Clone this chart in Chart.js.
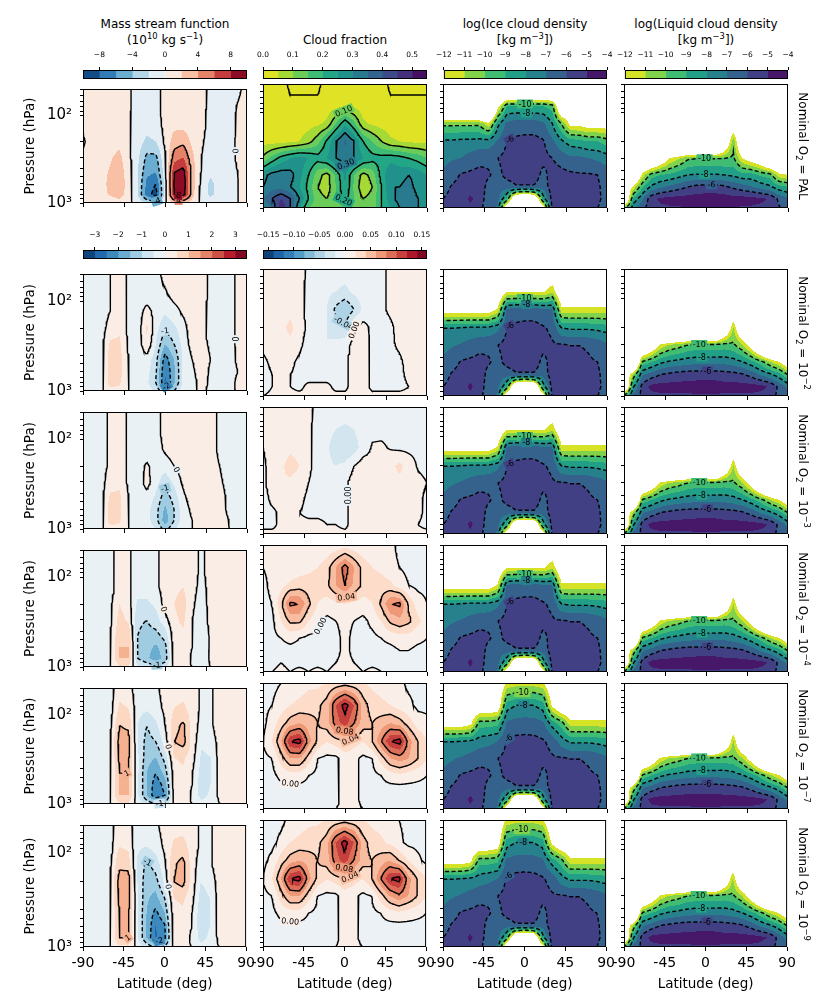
<!DOCTYPE html>
<html>
<head>
<meta charset="utf-8">
<title>Nominal O2 sensitivity</title>
<script src="https://cdn.jsdelivr.net/npm/chart.js@4.4.1/dist/chart.umd.min.js"></script>
<style>
  body { margin: 0; background: #fff; }
  #fig { position: relative; width: 830px; height: 997px; overflow: hidden; font-family: "DejaVu Sans", sans-serif; color: #000; }
  #fig canvas { position: absolute; }
  .title { position: absolute; width: 220px; text-align: center; font-size: 12px; line-height: 16px; white-space: nowrap; }
  .rowlab { position: absolute; font-size: 12px; white-space: nowrap; transform: translate(-50%, -50%) rotate(90deg); }
  sup, sub { font-size: 0.7em; line-height: 0; }
</style>
</head>
<body>
<div id="fig"></div>
<script>
// grid the fields are given on
const LAT = [-90, -80, -70, -60, -50, -40, -30, -20, -10, 0, 10, 20, 30, 40, 50, 60, 70, 80, 90];
const PLEV = [50, 85, 130, 200, 300, 450, 600, 800, 1000];

// axis ticks
const LAT_TICKS = [-90, -45, 0, 45, 90];
const P_TICKS = [50, 60, 70, 80, 90, 100, 200, 300, 400, 500, 600, 700, 800, 900, 1000];

// filled contour levels
const SF_PAL_LEVELS = [-10, -8, -6, -4, -2, 0, 2, 4, 6, 8, 10];
const SF_DIFF_LEVELS = [-3.5, -3, -2.5, -2, -1.5, -1, -0.5, 0, 0.5, 1, 1.5, 2, 2.5, 3, 3.5];
const CF_PAL_LEVELS = [0, 0.05, 0.1, 0.15, 0.2, 0.25, 0.3, 0.35, 0.4, 0.45, 0.5, 0.55];
const CF_DIFF_LEVELS = [-0.16, -0.14, -0.12, -0.1, -0.08, -0.06, -0.04, -0.02, 0, 0.02, 0.04, 0.06, 0.08, 0.1, 0.12, 0.14, 0.16];
const DENS_LEVELS = [-12, -11, -10, -9, -8, -7, -6, -5, -4];

// line contour levels
const SF_PAL_LINES = [-8, -4, 0, 4, 8];
const SF_DIFF_LINES = [-3, -2, -1, 0, 1, 2, 3];
const CF_PAL_LINES = [0, 0.1, 0.2, 0.3, 0.4];
const CF_DIFF_LINES = [-0.08, -0.04, 0, 0.04, 0.08, 0.12];
const DENS_LINES = [-10, -8, -6];

// colorbar ticks
const SF_PAL_TICKS = [-8, -4, 0, 4, 8];
const SF_DIFF_TICKS = [-3, -2, -1, 0, 1, 2, 3];
const CF_PAL_TICKS = [0, 0.1, 0.2, 0.3, 0.4, 0.5];
const CF_DIFF_TICKS = [-0.15, -0.1, -0.05, 0, 0.05, 0.1, 0.15];
const DENS_TICKS = [-12, -11, -10, -9, -8, -7, -6, -5, -4];

const ROW_LABELS = ['PAL', '10<sup>−2</sup>', '10<sup>−3</sup>', '10<sup>−4</sup>', '10<sup>−7</sup>', '10<sup>−9</sup>'];

// mass stream function (rows: 50 ... 1000 hPa, columns: -90 ... 90 deg)
const SF_PAL = [
  [0.3, 0.8, 0.8, 0.8, 0.8, 0.3, -0.8, -0.8, -0.5, 0.5, 0.8, 0.8, 0.8, 0.6, -0.4, -0.8, -0.8, -0.3, 0.5],
  [0.3, 0.8, 0.8, 0.8, 0.8, 0.3, -0.8, -0.8, -0.5, 0.5, 0.8, 0.8, 0.8, 0.5, -0.5, -0.8, -0.8, 0.2, 0.5],
  [0.2, 0.8, 0.9, 0.9, 0.9, 0.2, -0.9, -1.2, -0.8, 0.5, 1.5, 1.5, 0.9, 0.4, -0.5, -0.8, -0.8, 0.3, 0.6],
  [-0.2, 0.6, 1.0, 1.2, 1.5, 0.2, -1.0, -2.5, -2.0, 0.4, 3.0, 3.5, 1.5, 0.2, -0.6, -0.8, -0.6, 0.3, 0.6],
  [0.3, 0.5, 1.2, 1.8, 2.5, 0.5, -1.5, -4.5, -4.5, -0.3, 5.0, 6.0, 2.5, 0.0, -0.8, -0.8, -0.5, 0.2, 0.5],
  [0.2, 0.5, 1.5, 2.2, 3.0, 1.0, -2.0, -5.5, -6.0, -0.8, 8.0, 9.0, 3.0, -0.2, -1.5, -0.9, -0.5, 0.0, 0.4],
  [0.1, 0.5, 1.5, 2.4, 3.2, 1.2, -2.0, -6.5, -8.0, -1.2, 8.5, 9.5, 3.0, -0.5, -2.5, -1.0, -0.5, 0.0, 0.3],
  [0.1, 0.5, 1.5, 2.2, 3.0, 1.0, -2.0, -7.0, -9.0, -1.2, 8.0, 9.0, 2.8, -1.0, -2.5, -1.0, -0.5, 0.0, 0.3],
  [0.0, 0.3, 0.6, 0.8, 1.0, 0.3, -0.5, -2.0, -3.0, -0.3, 2.0, 2.0, 1.0, -0.3, -0.5, -0.3, 0.0, 0.0, 0.0]
];
const SF_E2 = [
  [-0.3, -0.3, -0.2, 0.0, 0.3, -0.1, -0.3, -0.3, -0.2, 0.2, 0.3, 0.3, 0.3, 0.2, -0.1, -0.3, -0.2, 0.1, 0.3],
  [-0.3, -0.3, -0.2, 0.0, 0.3, -0.1, -0.3, -0.3, -0.3, -0.1, 0.2, 0.3, 0.3, 0.2, -0.1, -0.3, -0.2, 0.1, 0.3],
  [-0.3, -0.3, -0.2, 0.0, 0.3, -0.1, -0.3, 0.2, -0.2, -0.4, -0.2, 0.1, 0.3, 0.2, -0.2, -0.3, -0.2, 0.1, 0.3],
  [-0.3, -0.3, -0.2, 0.2, 0.4, -0.1, -0.3, 0.6, -0.3, -0.9, -0.6, -0.2, 0.3, 0.2, -0.2, -0.3, -0.2, 0.1, 0.3],
  [-0.3, -0.3, -0.2, 0.6, 0.6, -0.1, -0.3, 0.4, -0.5, -1.5, -1.0, -0.3, 0.2, 0.2, -0.1, -0.3, -0.2, 0.1, 0.3],
  [-0.3, -0.3, -0.2, 0.8, 0.7, 0.0, -0.3, -0.2, -0.8, -2.3, -1.5, -0.4, 0.0, 0.3, 0.0, -0.3, -0.3, 0.1, 0.3],
  [-0.3, -0.3, -0.2, 0.8, 0.7, 0.0, -0.3, -0.3, -0.9, -2.5, -1.6, -0.4, -0.1, 0.3, -0.1, -0.2, -0.2, 0.0, 0.2],
  [-0.3, -0.2, -0.2, 0.8, 0.6, 0.0, -0.3, -0.4, -1.0, -2.6, -1.6, -0.4, -0.2, 0.2, -0.1, -0.3, -0.2, 0.1, 0.1],
  [0.0, 0.0, -0.1, 0.3, 0.3, 0.0, -0.1, -0.2, -0.6, -1.5, -1.0, -0.2, -0.1, 0.1, -0.1, -0.1, 0.0, 0.0, 0.0]
];
const SF_E3 = [
  [-0.3, -0.3, -0.2, 0.1, 0.3, -0.1, -0.3, -0.3, -0.2, 0.2, 0.3, 0.3, 0.3, 0.3, 0.2, -0.1, -0.3, -0.3, -0.2],
  [-0.3, -0.3, -0.2, 0.1, 0.3, -0.1, -0.3, -0.3, -0.2, 0.2, 0.3, 0.3, 0.3, 0.3, 0.2, -0.1, -0.3, -0.3, -0.2],
  [-0.3, -0.3, -0.2, 0.1, 0.3, -0.1, -0.3, -0.3, -0.3, 0.1, 0.3, 0.3, 0.3, 0.3, 0.2, -0.1, -0.3, -0.3, -0.2],
  [-0.3, -0.3, -0.2, 0.1, 0.3, -0.1, -0.3, 0.1, -0.3, -0.3, 0.0, 0.3, 0.3, 0.3, 0.2, 0.0, -0.3, -0.3, -0.2],
  [-0.3, -0.3, -0.2, 0.3, 0.4, -0.1, -0.3, 0.2, -0.3, -0.8, -0.4, 0.1, 0.3, 0.3, 0.3, 0.1, -0.2, -0.3, -0.2],
  [-0.3, -0.3, -0.2, 0.6, 0.6, 0.0, -0.3, -0.2, -0.6, -1.3, -0.8, -0.1, 0.2, 0.3, 0.3, 0.2, -0.1, -0.3, -0.2],
  [-0.3, -0.3, -0.2, 0.8, 0.6, 0.0, -0.3, -0.3, -0.8, -1.6, -1.0, -0.2, 0.1, 0.3, 0.3, 0.2, -0.1, -0.3, -0.2],
  [-0.3, -0.2, -0.2, 0.8, 0.6, 0.0, -0.3, -0.3, -0.8, -1.8, -1.0, -0.2, 0.0, 0.2, 0.3, 0.2, 0.0, -0.2, -0.2],
  [0.0, 0.0, -0.1, 0.3, 0.3, 0.0, -0.1, -0.2, -0.5, -1.2, -0.6, -0.1, 0.0, 0.1, 0.2, 0.1, 0.0, 0.0, 0.0]
];
const SF_E4 = [
  [-0.3, -0.3, -0.3, -0.2, 0.3, 0.1, -0.3, -0.3, -0.1, 0.2, 0.3, 0.3, 0.2, -0.1, 0.2, 0.3, 0.3, 0.3, 0.3],
  [-0.3, -0.3, -0.3, -0.2, 0.3, 0.1, -0.3, -0.3, -0.1, 0.2, 0.3, 0.3, 0.2, -0.1, 0.2, 0.3, 0.3, 0.3, 0.3],
  [-0.3, -0.3, -0.3, -0.2, 0.3, 0.1, -0.3, -0.3, -0.1, 0.2, 0.4, 0.5, 0.2, -0.2, 0.2, 0.3, 0.3, 0.3, 0.3],
  [-0.3, -0.3, -0.3, -0.1, 0.5, 0.2, -0.6, -0.6, -0.4, 0.2, 0.5, 0.7, 0.1, -0.3, 0.2, 0.3, 0.3, 0.3, 0.3],
  [-0.3, -0.3, -0.3, -0.1, 0.7, 0.4, -0.9, -1.0, -0.7, -0.2, 0.4, 0.6, 0.0, -0.4, 0.2, 0.3, 0.3, 0.3, 0.3],
  [-0.3, -0.3, -0.3, 0.0, 0.9, 0.9, -1.0, -1.2, -1.2, -0.8, 0.3, 0.4, 0.0, -0.5, 0.1, 0.3, 0.3, 0.3, 0.3],
  [-0.3, -0.3, -0.3, 0.0, 1.0, 1.0, -1.0, -1.3, -1.6, -1.2, 0.3, 0.3, 0.0, -0.5, 0.1, 0.3, 0.3, 0.3, 0.3],
  [-0.3, -0.3, -0.3, 0.0, 1.0, 1.0, -1.0, -1.4, -1.8, -1.3, 0.2, 0.3, -0.1, -0.4, 0.1, 0.2, 0.2, 0.2, 0.2],
  [0.0, 0.0, 0.0, 0.0, 0.4, 0.4, -0.4, -0.6, -0.8, -0.6, 0.1, 0.1, 0.0, -0.2, 0.0, 0.1, 0.1, 0.1, 0.1]
];
const SF_E7 = [
  [-0.3, -0.3, -0.3, -0.2, 0.3, 0.2, -0.3, -0.3, -0.1, 0.2, 0.3, 0.3, 0.3, -0.1, -0.1, 0.3, 0.3, 0.3, 0.3],
  [-0.3, -0.3, -0.3, -0.2, 0.6, 0.5, -0.3, -0.4, -0.2, 0.1, 0.5, 0.6, 0.3, -0.1, -0.1, 0.3, 0.3, 0.3, 0.3],
  [-0.3, -0.3, -0.3, -0.1, 1.0, 0.9, -0.5, -1.0, -0.6, 0.0, 0.8, 1.1, 0.3, -0.2, -0.1, 0.3, 0.3, 0.3, 0.3],
  [-0.3, -0.3, -0.3, 0.0, 1.2, 1.2, -0.5, -1.2, -1.0, -0.3, 1.0, 1.2, 0.3, -0.4, -0.3, 0.2, 0.3, 0.3, 0.3],
  [-0.3, -0.3, -0.3, 0.0, 1.1, 1.1, -0.4, -1.3, -1.5, -0.8, 0.5, 0.6, 0.2, -0.6, -0.5, 0.2, 0.3, 0.3, 0.3],
  [-0.3, -0.3, -0.3, 0.0, 1.0, 1.0, -0.4, -1.5, -2.0, -1.3, 0.3, 0.4, 0.0, -0.7, -0.5, 0.2, 0.3, 0.3, 0.3],
  [-0.3, -0.3, -0.3, 0.0, 1.0, 1.0, -0.4, -1.5, -2.3, -1.8, 0.3, 0.3, 0.0, -0.8, -0.5, 0.2, 0.3, 0.3, 0.3],
  [-0.3, -0.3, -0.3, 0.0, 1.0, 1.0, -0.4, -1.5, -2.4, -2.0, 0.2, 0.3, -0.1, -0.7, -0.4, 0.1, 0.2, 0.2, 0.2],
  [-0.1, -0.1, -0.1, 0.0, 0.4, 0.4, -0.2, -0.6, -1.0, -0.8, 0.1, 0.1, 0.0, -0.3, -0.2, 0.0, 0.1, 0.1, 0.1]
];
const SF_E9 = [
  [-0.3, -0.3, -0.3, -0.2, 0.3, 0.2, -0.3, -0.3, -0.1, 0.2, 0.3, 0.3, 0.3, -0.1, -0.1, 0.3, 0.3, 0.3, 0.3],
  [-0.3, -0.3, -0.3, -0.2, 0.5, 0.4, -0.4, -0.5, -0.3, 0.1, 0.6, 0.7, 0.3, -0.1, -0.1, 0.3, 0.3, 0.3, 0.3],
  [-0.3, -0.3, -0.3, -0.1, 0.9, 0.8, -0.6, -1.1, -0.8, -0.1, 0.9, 1.2, 0.3, -0.3, -0.1, 0.3, 0.3, 0.3, 0.3],
  [-0.3, -0.3, -0.3, 0.0, 1.2, 1.3, -0.5, -1.3, -1.2, -0.4, 1.0, 1.2, 0.3, -0.5, -0.3, 0.2, 0.3, 0.3, 0.3],
  [-0.3, -0.3, -0.3, 0.0, 1.1, 1.2, -0.4, -1.4, -1.7, -1.0, 0.5, 0.6, 0.2, -0.7, -0.5, 0.2, 0.3, 0.3, 0.3],
  [-0.3, -0.3, -0.3, 0.0, 1.0, 1.1, -0.4, -1.5, -2.2, -1.6, 0.3, 0.4, 0.0, -0.8, -0.5, 0.2, 0.3, 0.3, 0.3],
  [-0.3, -0.3, -0.3, 0.0, 1.0, 1.1, -0.4, -1.5, -2.5, -2.1, 0.3, 0.3, 0.0, -0.8, -0.5, 0.2, 0.3, 0.3, 0.3],
  [-0.3, -0.3, -0.3, 0.0, 1.0, 1.0, -0.4, -1.5, -2.6, -2.2, 0.2, 0.3, -0.1, -0.7, -0.4, 0.1, 0.2, 0.2, 0.2],
  [-0.1, -0.1, -0.1, 0.0, 0.4, 0.4, -0.2, -0.6, -1.1, -0.9, 0.1, 0.1, 0.0, -0.3, -0.2, 0.0, 0.1, 0.1, 0.1]
];

// cloud fraction (rows: 50 ... 1000 hPa)
const CF_PAL = [
  [0.02, 0.02, 0.02, -0.01, -0.01, -0.01, -0.01, 0.02, 0.02, 0.02, 0.02, 0.02, 0.02, 0.02, -0.01, -0.01, -0.01, -0.01, -0.01],
  [0.02, 0.02, 0.02, 0.01, 0.01, 0.01, 0.01, 0.02, 0.03, 0.05, 0.04, 0.02, 0.02, 0.02, 0.01, 0.01, 0.01, 0.01, 0.01],
  [0.02, 0.02, 0.02, 0.02, 0.02, 0.03, 0.04, 0.06, 0.15, 0.24, 0.16, 0.06, 0.04, 0.03, 0.02, 0.02, 0.02, 0.02, 0.02],
  [0.03, 0.03, 0.03, 0.04, 0.05, 0.08, 0.13, 0.21, 0.30, 0.36, 0.30, 0.20, 0.15, 0.10, 0.06, 0.05, 0.04, 0.04, 0.04],
  [0.11, 0.17, 0.22, 0.25, 0.27, 0.25, 0.22, 0.25, 0.30, 0.33, 0.30, 0.25, 0.22, 0.22, 0.23, 0.22, 0.20, 0.18, 0.15],
  [0.28, 0.32, 0.33, 0.32, 0.27, 0.20, 0.12, 0.08, 0.16, 0.26, 0.15, 0.08, 0.12, 0.22, 0.30, 0.28, 0.30, 0.28, 0.25],
  [0.30, 0.33, 0.33, 0.30, 0.25, 0.18, 0.10, 0.07, 0.15, 0.25, 0.14, 0.06, 0.10, 0.20, 0.30, 0.30, 0.32, 0.28, 0.27],
  [0.35, 0.40, 0.45, 0.40, 0.30, 0.20, 0.12, 0.10, 0.15, 0.22, 0.15, 0.10, 0.12, 0.20, 0.28, 0.32, 0.35, 0.30, 0.28],
  [0.30, 0.35, 0.50, 0.40, 0.25, 0.15, 0.12, 0.10, 0.12, 0.15, 0.10, 0.10, 0.12, 0.20, 0.25, 0.30, 0.35, 0.30, 0.30]
];
const CF_E2 = [
  [0.01, 0.01, 0.01, 0.01, 0.01, -0.005, -0.01, -0.01, -0.01, -0.01, -0.01, -0.01, -0.01, -0.005, 0.005, 0.01, 0.01, 0.01, 0.01],
  [0.01, 0.01, 0.01, 0.01, 0.005, -0.005, -0.01, -0.015, -0.02, -0.025, -0.015, -0.01, -0.01, -0.005, 0.005, 0.01, 0.01, 0.01, 0.01],
  [0.01, 0.01, 0.01, 0.015, 0.005, -0.005, -0.01, -0.02, -0.045, -0.06, -0.04, -0.015, -0.01, -0.005, 0.005, 0.01, 0.01, 0.01, 0.01],
  [0.01, 0.01, 0.015, 0.025, 0.01, -0.005, -0.015, -0.02, -0.03, -0.035, 0.0, 0.008, -0.005, -0.01, -0.005, 0.01, 0.01, 0.01, 0.01],
  [0.005, 0.01, 0.01, 0.015, 0.005, -0.01, -0.02, -0.02, -0.015, -0.01, 0.008, 0.01, -0.005, -0.01, -0.005, 0.005, 0.01, 0.01, 0.005],
  [-0.005, 0.005, 0.01, 0.005, -0.005, -0.015, -0.02, -0.015, -0.01, -0.005, 0.01, 0.01, -0.005, -0.01, -0.01, -0.005, 0.01, 0.01, 0.005],
  [-0.01, 0.0, 0.005, 0.0, -0.005, -0.01, -0.01, -0.01, -0.005, -0.005, 0.01, 0.01, -0.005, -0.005, -0.005, -0.005, 0.005, 0.01, 0.005],
  [-0.01, 0.0, 0.005, 0.0, -0.005, 0.005, 0.005, 0.005, -0.005, -0.005, 0.01, 0.01, -0.005, -0.005, -0.005, -0.005, 0.0, 0.005, 0.005],
  [0.0, 0.005, 0.005, 0.005, 0.005, 0.005, 0.005, 0.005, 0.005, 0.005, 0.005, 0.005, 0.005, 0.005, 0.005, 0.005, 0.005, 0.005, 0.005]
];
const CF_E3 = [
  [0.01, 0.01, 0.01, 0.01, 0.01, 0.005, -0.005, -0.005, -0.005, -0.005, -0.005, -0.005, -0.005, -0.005, -0.005, -0.005, -0.005, -0.005, -0.005],
  [0.01, 0.01, 0.01, 0.01, 0.01, 0.005, -0.01, -0.01, -0.02, -0.025, -0.02, -0.01, -0.005, -0.005, -0.005, -0.005, -0.005, -0.005, -0.005],
  [0.0, 0.01, 0.01, 0.015, 0.01, 0.005, -0.01, -0.015, -0.035, -0.04, -0.03, -0.01, 0.002, 0.003, -0.002, -0.005, -0.005, -0.005, -0.005],
  [-0.005, 0.01, 0.015, 0.03, 0.02, 0.005, -0.01, -0.015, -0.02, -0.015, 0.0, 0.01, 0.005, 0.005, 0.015, 0.025, 0.01, -0.002, -0.005],
  [-0.005, 0.01, 0.02, 0.015, 0.01, 0.0, -0.01, -0.01, -0.01, -0.005, 0.01, 0.01, 0.005, 0.005, 0.01, 0.015, 0.015, 0.005, 0.0],
  [-0.01, 0.005, 0.01, 0.01, 0.005, -0.005, -0.01, -0.01, -0.005, -0.005, 0.01, 0.01, 0.005, 0.005, 0.005, 0.01, 0.01, 0.005, -0.005],
  [-0.01, -0.005, 0.005, 0.005, 0.0, -0.005, -0.005, -0.005, -0.005, -0.005, 0.01, 0.01, 0.005, 0.005, 0.005, 0.005, 0.005, 0.005, -0.005],
  [-0.005, -0.005, 0.005, 0.005, 0.005, 0.005, 0.005, 0.0, 0.0, -0.005, 0.01, 0.01, 0.005, 0.005, 0.005, 0.005, 0.005, 0.0, -0.005],
  [0.005, 0.005, 0.005, 0.005, 0.005, 0.005, 0.005, 0.005, 0.005, 0.005, 0.005, 0.005, 0.005, 0.005, 0.005, 0.005, 0.005, 0.005, 0.005]
];
const CF_E4 = [
  [0.005, 0.005, 0.005, 0.005, 0.005, 0.005, 0.005, 0.005, 0.005, 0.01, 0.005, 0.005, 0.005, 0.005, 0.005, -0.005, -0.005, -0.005, -0.005],
  [0.0, 0.005, 0.005, 0.005, 0.01, 0.015, 0.02, 0.03, 0.06, 0.09, 0.06, 0.03, 0.02, 0.015, 0.005, 0.0, -0.005, -0.005, -0.005],
  [-0.005, 0.005, 0.015, 0.025, 0.03, 0.03, 0.03, 0.035, 0.06, 0.08, 0.055, 0.035, 0.03, 0.03, 0.025, 0.01, 0.0, -0.005, -0.005],
  [-0.005, 0.0, 0.035, 0.085, 0.08, 0.045, 0.02, 0.01, 0.015, 0.02, 0.015, 0.01, 0.02, 0.045, 0.08, 0.085, 0.035, 0.01, 0.0],
  [-0.01, -0.005, 0.02, 0.045, 0.045, 0.02, 0.005, -0.005, 0.0, 0.005, 0.0, -0.005, 0.005, 0.02, 0.045, 0.055, 0.045, 0.025, 0.01],
  [-0.01, -0.005, 0.0, 0.005, 0.0, -0.005, -0.005, -0.005, -0.005, 0.005, -0.005, -0.005, -0.005, 0.0, 0.005, 0.01, 0.01, 0.005, 0.0],
  [-0.01, -0.01, -0.005, -0.005, -0.005, -0.005, -0.005, -0.005, -0.005, 0.005, -0.005, -0.005, -0.005, -0.005, -0.005, 0.0, 0.0, -0.005, -0.005],
  [-0.015, -0.005, 0.0, -0.005, -0.005, -0.005, -0.005, -0.005, 0.0, 0.005, 0.0, -0.005, -0.005, -0.005, -0.005, -0.005, -0.005, -0.005, -0.005],
  [-0.01, 0.0, 0.005, 0.0, 0.005, 0.0, 0.005, 0.0, 0.005, 0.005, 0.005, 0.0, 0.005, 0.0, 0.0, 0.0, 0.0, 0.0, -0.005]
];
const CF_E7 = [
  [-0.005, -0.005, 0.0, 0.005, 0.01, 0.015, 0.015, 0.02, 0.025, 0.03, 0.025, 0.02, 0.015, 0.01, 0.005, 0.005, -0.005, -0.005, -0.005],
  [-0.005, 0.0, 0.01, 0.02, 0.025, 0.03, 0.035, 0.05, 0.1, 0.13, 0.1, 0.05, 0.03, 0.025, 0.02, 0.01, 0.005, -0.005, -0.005],
  [-0.005, 0.01, 0.03, 0.05, 0.06, 0.05, 0.04, 0.05, 0.09, 0.11, 0.08, 0.05, 0.04, 0.05, 0.06, 0.05, 0.03, 0.01, 0.005],
  [0.0, 0.02, 0.06, 0.12, 0.13, 0.07, 0.035, 0.02, 0.03, 0.04, 0.03, 0.02, 0.04, 0.08, 0.12, 0.13, 0.07, 0.04, 0.02],
  [-0.005, 0.0, 0.03, 0.06, 0.06, 0.03, 0.0, -0.005, -0.005, 0.01, 0.005, -0.005, 0.0, 0.03, 0.06, 0.07, 0.06, 0.04, 0.02],
  [-0.01, -0.005, 0.005, 0.01, 0.01, 0.0, -0.005, -0.005, -0.005, 0.01, 0.005, -0.005, -0.005, 0.0, 0.01, 0.015, 0.01, 0.005, 0.0],
  [-0.01, -0.005, -0.005, -0.005, -0.005, -0.005, -0.005, -0.005, -0.005, 0.01, 0.005, -0.005, -0.005, -0.005, -0.005, -0.005, -0.005, -0.005, -0.005],
  [-0.02, -0.005, -0.005, -0.005, -0.005, -0.005, -0.005, -0.005, -0.005, 0.01, 0.005, -0.005, -0.005, -0.005, -0.005, -0.005, -0.005, -0.005, -0.01],
  [-0.005, 0.0, 0.0, 0.0, -0.005, 0.0, 0.0, -0.005, 0.0, 0.005, 0.005, 0.0, -0.005, 0.0, -0.005, 0.0, -0.005, -0.005, -0.005]
];
const CF_E9 = [
  [-0.005, -0.005, -0.005, 0.005, 0.01, 0.015, 0.015, 0.02, 0.025, 0.03, 0.025, 0.02, 0.015, 0.01, 0.005, 0.0, -0.005, -0.005, -0.005],
  [-0.005, -0.005, 0.005, 0.02, 0.025, 0.03, 0.035, 0.05, 0.1, 0.13, 0.1, 0.05, 0.03, 0.025, 0.015, 0.005, -0.005, -0.005, -0.005],
  [-0.005, 0.005, 0.03, 0.05, 0.06, 0.05, 0.04, 0.05, 0.09, 0.11, 0.08, 0.05, 0.04, 0.05, 0.06, 0.04, 0.02, 0.005, -0.005],
  [0.0, 0.02, 0.06, 0.12, 0.13, 0.07, 0.035, 0.02, 0.03, 0.04, 0.03, 0.02, 0.04, 0.08, 0.12, 0.13, 0.07, 0.04, 0.02],
  [-0.005, 0.0, 0.03, 0.06, 0.06, 0.03, 0.0, -0.005, -0.005, 0.01, 0.005, -0.005, 0.0, 0.03, 0.06, 0.075, 0.06, 0.04, 0.02],
  [-0.01, -0.005, 0.005, 0.01, 0.01, 0.0, -0.005, -0.005, -0.005, 0.01, 0.005, -0.005, -0.005, 0.0, 0.01, 0.015, 0.01, 0.005, 0.0],
  [-0.01, -0.005, -0.005, -0.005, -0.005, -0.005, -0.005, -0.005, -0.005, 0.01, 0.005, -0.005, -0.005, -0.005, -0.005, -0.005, -0.005, -0.005, -0.005],
  [-0.02, -0.005, -0.005, -0.005, -0.005, -0.005, -0.005, -0.005, -0.005, 0.01, 0.005, -0.005, -0.005, -0.005, -0.005, -0.005, -0.005, -0.005, -0.01],
  [-0.005, 0.0, 0.0, 0.0, -0.005, 0.0, 0.0, -0.005, 0.0, 0.005, 0.005, 0.0, -0.005, 0.0, -0.005, 0.0, -0.005, -0.005, -0.005]
];

// log10 cloud densities, one column per latitude (50 ... 1000 hPa); values below -12 mean no cloud
const ICE_PAL_COLS = [
  [-14, -20, -10.3, -7.8, -7.3, -6.8, -6.4, -6.0, -5.8],
  [-14, -20, -10.3, -7.8, -7.1, -6.4, -5.9, -5.7, -5.6],
  [-14, -20, -10.3, -7.7, -7.0, -5.9, -5.6, -5.5, -5.5],
  [-14, -20, -10.3, -7.7, -6.6, -5.8, -5.5, -4.8, -5.2],
  [-14, -20, -10.3, -7.6, -6.3, -5.7, -5.5, -5.5, -5.7],
  [-14, -20, -11.8, -7.6, -6.2, -5.9, -6.3, -6.5, -6.6],
  [-20, -12.6, -8.3, -6.9, -6.0, -6.3, -6.5, -6.6, -7.2],
  [-20, -9.0, -6.8, -6.0, -5.7, -5.7, -6.5, -9.0, -14],
  [-20, -9.0, -6.5, -5.8, -5.5, -5.5, -6.1, -15, -16],
  [-20, -9.0, -6.5, -5.7, -5.5, -5.5, -6.1, -16, -16],
  [-20, -9.0, -6.5, -5.7, -5.5, -5.5, -6.1, -15, -16],
  [-20, -9.0, -6.8, -5.9, -5.7, -6.3, -6.5, -8.5, -13],
  [-20, -9.5, -8.0, -6.8, -6.0, -5.6, -5.5, -5.5, -5.6],
  [-14, -15, -10.0, -7.8, -6.4, -5.7, -5.5, -5.5, -5.6],
  [-14, -14, -12.5, -8.5, -6.8, -5.8, -5.6, -5.5, -5.6],
  [-14, -14, -12.5, -8.7, -6.8, -5.9, -5.7, -5.6, -5.6],
  [-14, -14, -13, -9.0, -7.0, -5.9, -5.8, -5.7, -5.8],
  [-14, -14, -13, -9.0, -7.2, -6.0, -5.9, -5.9, -6.0],
  [-14, -14, -13, -9.5, -7.5, -6.5, -6.3, -6.2, -6.3]
];
const ICE_MID_COLS = [
  [-14, -14, -13, -8.0, -7.3, -6.8, -6.4, -6.0, -5.8],
  [-14, -14, -13, -8.0, -7.1, -6.4, -5.9, -5.7, -5.6],
  [-14, -14, -13, -7.9, -6.9, -5.9, -5.6, -5.5, -5.5],
  [-14, -14, -13, -7.8, -6.6, -5.8, -5.5, -4.8, -5.2],
  [-14, -14, -13, -7.8, -6.3, -5.7, -5.5, -5.5, -5.7],
  [-14, -14, -13, -7.8, -6.2, -5.9, -6.3, -6.5, -6.6],
  [-14, -14, -11.8, -7.3, -6.0, -6.3, -6.5, -6.6, -7.2],
  [-14, -12.2, -6.8, -6.0, -5.7, -5.7, -6.5, -9.0, -14],
  [-14, -12.2, -6.5, -5.8, -5.5, -5.5, -6.1, -15, -16],
  [-14, -12.2, -6.5, -5.7, -5.5, -5.5, -6.1, -16, -16],
  [-14, -12.2, -6.5, -5.7, -5.5, -5.5, -6.1, -15, -16],
  [-14, -12.2, -6.8, -5.9, -5.7, -6.3, -6.5, -8.5, -13],
  [-14, -11.2, -7.0, -6.2, -5.9, -5.6, -5.5, -5.5, -5.6],
  [-14, -14, -11.6, -8.0, -5.9, -5.6, -5.5, -5.5, -5.6],
  [-14, -14, -11.6, -8.2, -6.0, -5.7, -5.6, -5.5, -5.6],
  [-14, -14, -11.6, -8.2, -6.0, -5.8, -5.7, -5.6, -5.6],
  [-14, -14, -11.6, -8.2, -6.1, -5.9, -5.8, -5.7, -5.8],
  [-14, -14, -11.6, -8.3, -6.4, -6.0, -5.9, -5.9, -6.0],
  [-14, -14, -11.6, -8.5, -6.8, -6.4, -6.3, -6.2, -6.3]
];
const ICE_HIGH_COLS = [
  [-14, -14, -13, -8.0, -7.3, -6.8, -6.4, -6.0, -5.8],
  [-14, -14, -13, -8.0, -7.1, -6.4, -5.9, -5.7, -5.6],
  [-14, -14, -13, -7.9, -6.9, -5.9, -5.6, -5.5, -5.5],
  [-14, -14, -12.5, -7.8, -6.6, -5.8, -5.5, -4.8, -5.2],
  [-14, -14, -9.5, -7.5, -6.3, -5.7, -5.5, -5.5, -5.7],
  [-14, -14, -9.5, -7.3, -6.2, -5.9, -6.3, -6.5, -6.6],
  [-14, -13.5, -9.3, -7.0, -6.0, -6.3, -6.5, -6.6, -7.2],
  [-11.8, -8.5, -6.8, -5.9, -5.7, -5.7, -6.5, -9.0, -14],
  [-11.5, -8.0, -6.6, -5.7, -5.5, -5.5, -6.1, -15, -16],
  [-11.5, -8.0, -6.5, -5.7, -5.5, -5.5, -6.1, -16, -16],
  [-11.5, -8.0, -6.6, -5.7, -5.5, -5.5, -6.1, -15, -16],
  [-11.8, -8.5, -6.8, -5.9, -5.7, -6.3, -6.5, -8.5, -13],
  [-14, -12.3, -8.5, -6.3, -5.9, -5.6, -5.5, -5.5, -5.6],
  [-14, -14, -9.5, -7.5, -5.9, -5.6, -5.5, -5.5, -5.6],
  [-14, -14, -11.6, -8.2, -6.0, -5.7, -5.6, -5.5, -5.6],
  [-14, -14, -11.6, -8.2, -6.0, -5.8, -5.7, -5.6, -5.6],
  [-14, -14, -11.6, -8.2, -6.1, -5.9, -5.8, -5.7, -5.8],
  [-14, -14, -11.6, -8.3, -6.4, -6.0, -5.9, -5.9, -6.0],
  [-14, -14, -11.6, -8.5, -6.8, -6.4, -6.3, -6.2, -6.3]
];
const LIQ_PAL_COLS = [
  [-14, -14, -14, -14, -14, -14, -14, -16, -10.5],
  [-14, -14, -14, -14, -14, -16, -11.8, -8.8, -7.3],
  [-14, -14, -14, -14, -16, -11.6, -9.2, -7.2, -6.3],
  [-14, -14, -14, -14, -16, -9.5, -7.8, -5.3, -5.4],
  [-14, -14, -14, -14, -14, -9.0, -7.2, -4.8, -5.2],
  [-14, -14, -14, -20, -12.0, -8.8, -6.8, -4.7, -5.1],
  [-14, -14, -14, -20, -11.2, -8.4, -6.4, -4.6, -5.1],
  [-14, -14, -14, -20, -10.2, -8.0, -6.0, -4.6, -5.0],
  [-14, -14, -14, -20, -10.0, -7.9, -5.7, -4.5, -5.0],
  [-14, -14, -14, -20, -10.0, -7.9, -5.6, -4.5, -5.0],
  [-14, -14, -14, -20, -10.0, -7.9, -5.6, -4.5, -5.0],
  [-14, -14, -14, -15, -10.0, -8.0, -5.8, -4.5, -5.0],
  [-14, -14, -14, -10.3, -9.8, -8.2, -6.2, -4.6, -5.0],
  [-14, -14, -14, -15, -12.0, -8.6, -6.6, -4.6, -5.1],
  [-14, -14, -14, -14, -13, -8.6, -6.9, -4.7, -5.1],
  [-14, -14, -14, -14, -14, -9.2, -7.4, -4.8, -5.2],
  [-14, -14, -14, -14, -16, -9.5, -7.8, -5.1, -5.3],
  [-14, -14, -14, -14, -16, -11.6, -8.6, -6.2, -5.9],
  [-14, -14, -14, -14, -16, -12.0, -9.0, -6.9, -6.4]
];
const LIQ_LOW_COLS = [
  [-14, -14, -14, -14, -14, -14, -14, -16, -9.5],
  [-14, -14, -14, -14, -14, -18, -11.0, -8.2, -6.5],
  [-14, -14, -14, -14, -16, -9.75, -7.2, -5.6, -5.8],
  [-14, -14, -14, -14, -14, -9.0, -6.6, -4.7, -5.3],
  [-14, -14, -14, -20, -11.75, -8.2, -6.0, -4.6, -5.2],
  [-14, -14, -14, -20, -10.9, -7.8, -5.8, -4.6, -5.2],
  [-14, -14, -14, -20, -10.5, -7.6, -5.6, -4.6, -5.2],
  [-14, -14, -14, -20, -9.9, -7.4, -5.5, -4.6, -5.2],
  [-14, -14, -14, -20, -9.7, -7.3, -5.5, -4.5, -5.1],
  [-14, -14, -14, -20, -9.7, -7.3, -5.5, -4.5, -5.1],
  [-14, -14, -14, -20, -9.7, -7.3, -5.5, -4.5, -5.1],
  [-14, -14, -14, -15, -9.6, -7.3, -5.6, -4.6, -5.2],
  [-14, -14, -14, -10.9, -9.8, -7.5, -5.7, -4.6, -5.2],
  [-14, -14, -14, -15, -10.9, -7.9, -5.9, -4.6, -5.2],
  [-14, -14, -14, -14, -13, -8.6, -6.4, -4.6, -5.2],
  [-14, -14, -14, -14, -16, -9.5, -7.2, -4.7, -5.3],
  [-14, -14, -14, -14, -18, -10.8, -7.8, -5.1, -5.5],
  [-14, -14, -14, -14, -18, -11.9, -8.6, -6.2, -6.3],
  [-14, -14, -14, -14, -14, -13.5, -10.1, -7.3, -6.8]
];

// colormaps (matplotlib RdBu_r and viridis_r anchor colours)
const RDBU_R = ['#053061', '#2166ac', '#4393c3', '#92c5de', '#d1e5f0', '#f7f7f7', '#fddbc7', '#f4a582', '#d6604d', '#b2182b', '#67001f'];
const VIRIDIS_R = ['#fde725', '#bddf26', '#7ad151', '#44bf70', '#22a884', '#21918c', '#2a788e', '#355f8d', '#414487', '#482475', '#440154'];

// layout of the figure
const COL_X = [83, 263, 443, 624];
const PANEL_W = 164;
const ROW_Y = [84, 269, 407, 545, 683, 820];
const ROW_H = [124, 127, 127, 127, 126, 127];

function byLatitude(cols) {
  return PLEV.map((_, k) => cols.map(col => col[k]));
}
const ICE_PAL = byLatitude(ICE_PAL_COLS);
const ICE_MID = byLatitude(ICE_MID_COLS);
const ICE_HIGH = byLatitude(ICE_HIGH_COLS);
const LIQ_PAL = byLatitude(LIQ_PAL_COLS);
const LIQ_LOW = byLatitude(LIQ_LOW_COLS);

const ROWS = [
  { sf: SF_PAL, cf: CF_PAL, ice: ICE_PAL, liq: LIQ_PAL },
  { sf: SF_E2, cf: CF_E2, ice: ICE_MID, liq: LIQ_LOW },
  { sf: SF_E3, cf: CF_E3, ice: ICE_MID, liq: LIQ_LOW },
  { sf: SF_E4, cf: CF_E4, ice: ICE_MID, liq: LIQ_LOW },
  { sf: SF_E7, cf: CF_E7, ice: ICE_HIGH, liq: LIQ_LOW },
  { sf: SF_E9, cf: CF_E9, ice: ICE_HIGH, liq: LIQ_LOW }
];

const MINUS = '\u2212';
const KINDS = {
  sf0: { levels: SF_PAL_LEVELS, stops: RDBU_R, lines: SF_PAL_LINES, clampLow: true, fmt: v => String(v) },
  sf: { levels: SF_DIFF_LEVELS, stops: RDBU_R, lines: SF_DIFF_LINES, clampLow: true, fmt: v => String(v) },
  cf0: { levels: CF_PAL_LEVELS, stops: VIRIDIS_R, lines: CF_PAL_LINES, clampLow: true, fmt: v => v.toFixed(2) },
  cf: { levels: CF_DIFF_LEVELS, stops: RDBU_R, lines: CF_DIFF_LINES, clampLow: true, fmt: v => v.toFixed(2) },
  dens: { levels: DENS_LEVELS, stops: VIRIDIS_R, lines: DENS_LINES, clampLow: false, fmt: v => String(v) }
};

function hexRgb(h) {
  return [parseInt(h.slice(1, 3), 16), parseInt(h.slice(3, 5), 16), parseInt(h.slice(5, 7), 16)];
}
function sampleMap(stops, t) {
  const pos = t * (stops.length - 1), i = Math.min(stops.length - 2, Math.floor(pos)), f = pos - i;
  const a = hexRgb(stops[i]), b = hexRgb(stops[i + 1]);
  return a.map((v, n) => Math.round(v + (b[n] - v) * f));
}
function bandColors(stops, n) {
  const out = [];
  for (let b = 0; b < n; b++) out.push(sampleMap(stops, (b + 0.5) / n));
  return out;
}
const rgb = c => `rgb(${c[0]},${c[1]},${c[2]})`;

const LOGP = PLEV.map(Math.log10);
function fieldAt(grid, lat, p) {
  const la = Math.min(90, Math.max(-90, lat));
  const lp = Math.log10(Math.min(1000, Math.max(50, p)));
  let i = 0;
  while (i < LAT.length - 2 && la > LAT[i + 1]) i++;
  let k = 0;
  while (k < LOGP.length - 2 && lp > LOGP[k + 1]) k++;
  const tx = (la - LAT[i]) / (LAT[i + 1] - LAT[i]);
  const ty = (lp - LOGP[k]) / (LOGP[k + 1] - LOGP[k]);
  const a = grid[k][i], b = grid[k][i + 1], c = grid[k + 1][i], d = grid[k + 1][i + 1];
  return (a * (1 - tx) + b * tx) * (1 - ty) + (c * (1 - tx) + d * tx) * ty;
}
function bandOf(levels, v) {
  if (v < levels[0]) return -1;
  for (let b = 0; b < levels.length - 1; b++) if (v < levels[b + 1]) return b;
  return levels.length - 2;
}

// contour lines: marching squares on a fine resampling of the field
const NX = 121, NY = 80;
function sampleField(grid) {
  const F = [];
  for (let j = 0; j < NY; j++) {
    const p = Math.pow(10, LOGP[0] + j * (LOGP[LOGP.length - 1] - LOGP[0]) / (NY - 1));
    const row = [];
    for (let i = 0; i < NX; i++) row.push(fieldAt(grid, -90 + i * 180 / (NX - 1), p));
    F.push(row);
  }
  return F;
}
function edgePoint(F, L, id) {
  const cell = Math.floor(id / 2), vert = id % 2, j = Math.floor(cell / NX), i = cell % NX;
  const a = F[j][i], b = vert ? F[j + 1][i] : F[j][i + 1];
  const t = (L - a) / (b - a);
  const fi = vert ? i : i + t, fj = vert ? j + t : j;
  return { x: -90 + fi * 180 / (NX - 1), y: Math.pow(10, LOGP[0] + fj * (LOGP[LOGP.length - 1] - LOGP[0]) / (NY - 1)) };
}
const CASES = { 1: [[3, 0]], 2: [[0, 1]], 3: [[3, 1]], 4: [[1, 2]], 6: [[0, 2]], 7: [[3, 2]], 8: [[2, 3]], 9: [[0, 2]], 11: [[1, 2]], 12: [[1, 3]], 13: [[0, 1]], 14: [[0, 3]] };
function contourPaths(F, L) {
  const segs = [];
  for (let j = 0; j < NY - 1; j++) {
    for (let i = 0; i < NX - 1; i++) {
      const v0 = F[j][i], v1 = F[j][i + 1], v2 = F[j + 1][i + 1], v3 = F[j + 1][i];
      const c = (v0 > L ? 1 : 0) | (v1 > L ? 2 : 0) | (v2 > L ? 4 : 0) | (v3 > L ? 8 : 0);
      if (c === 0 || c === 15) continue;
      const e = [(j * NX + i) * 2, (j * NX + i + 1) * 2 + 1, ((j + 1) * NX + i) * 2, (j * NX + i) * 2 + 1];
      let pairs;
      if (c === 5 || c === 10) {
        const mid = (v0 + v1 + v2 + v3) / 4 > L;
        pairs = (c === 5) === mid ? [[0, 1], [2, 3]] : [[3, 0], [1, 2]];
      } else pairs = CASES[c];
      pairs.forEach(pr => segs.push([e[pr[0]], e[pr[1]]]));
    }
  }
  const byEdge = new Map();
  segs.forEach((s, n) => s.forEach(e => { if (!byEdge.has(e)) byEdge.set(e, []); byEdge.get(e).push(n); }));
  const used = new Uint8Array(segs.length);
  const paths = [];
  for (let n = 0; n < segs.length; n++) {
    if (used[n]) continue;
    used[n] = 1;
    const chain = [segs[n][0], segs[n][1]];
    for (let dir = 0; dir < 2; dir++) {
      for (;;) {
        const end = chain[chain.length - 1];
        const next = (byEdge.get(end) || []).find(m => !used[m]);
        if (next === undefined) break;
        used[next] = 1;
        chain.push(segs[next][0] === end ? segs[next][1] : segs[next][0]);
      }
      chain.reverse();
    }
    paths.push(chain.map(id => edgePoint(F, L, id)));
  }
  return paths;
}

// plugins
function fieldPlugin(spec) {
  return {
    id: 'field',
    beforeDatasetsDraw(chart) {
      const { ctx, chartArea: a, scales: { x, y } } = chart;
      const w = Math.round(a.right - a.left), h = Math.round(a.bottom - a.top);
      const off = document.createElement('canvas');
      off.width = w; off.height = h;
      const octx = off.getContext('2d');
      const img = octx.createImageData(w, h);
      const lats = [], ps = [];
      for (let px = 0; px < w; px++) lats.push(x.getValueForPixel(a.left + px + 0.5));
      for (let py = 0; py < h; py++) ps.push(y.getValueForPixel(a.top + py + 0.5));
      for (let py = 0; py < h; py++) {
        for (let px = 0; px < w; px++) {
          let b = bandOf(spec.levels, fieldAt(spec.grid, lats[px], ps[py]));
          if (b < 0) { if (!spec.clampLow) continue; b = 0; }
          const c = spec.colors[b], o = (py * w + px) * 4;
          img.data[o] = c[0]; img.data[o + 1] = c[1]; img.data[o + 2] = c[2]; img.data[o + 3] = 255;
        }
      }
      octx.putImageData(img, 0, 0);
      ctx.drawImage(off, a.left, a.top, w, h);
    }
  };
}
function labelPlugin(spec) {
  return {
    id: 'clabels',
    afterDatasetsDraw(chart) {
      const { ctx, scales: { x, y } } = chart;
      // one inline label per contour level, on the longest piece of that level
      const best = new Map();
      spec.paths.forEach(p => {
        const px = p.pts.map(q => [x.getPixelForValue(q.x), y.getPixelForValue(q.y)]);
        const acc = [0];
        for (let i = 1; i < px.length; i++) acc.push(acc[i - 1] + Math.hypot(px[i][0] - px[i - 1][0], px[i][1] - px[i - 1][1]));
        const len = acc[acc.length - 1];
        if (len < 60) return;
        if (!best.has(p.level) || best.get(p.level).len < len) best.set(p.level, { len, px, acc, pts: p.pts });
      });
      ctx.save();
      ctx.font = '8px "DejaVu Sans"';
      ctx.textAlign = 'center';
      ctx.textBaseline = 'middle';
      best.forEach((c, level) => {
        const m = c.acc.findIndex(v => v >= c.len / 2);
        const a0 = c.px[Math.max(0, m - 3)], a1 = c.px[Math.min(c.px.length - 1, m + 3)];
        let ang = Math.atan2(a1[1] - a0[1], a1[0] - a0[0]);
        if (ang > Math.PI / 2) ang -= Math.PI;
        if (ang < -Math.PI / 2) ang += Math.PI;
        const txt = spec.fmt(level), tw = ctx.measureText(txt).width;
        const b = bandOf(spec.levels, fieldAt(spec.grid, c.pts[m].x, c.pts[m].y));
        ctx.save();
        ctx.translate(c.px[m][0], c.px[m][1]);
        ctx.rotate(ang);
        ctx.fillStyle = (b < 0 && !spec.clampLow) ? '#fff' : rgb(spec.colors[Math.max(0, b)]);
        ctx.fillRect(-tw / 2 - 1.5, -4.5, tw + 3, 9);
        ctx.fillStyle = '#000';
        ctx.fillText(txt, 0, 0.5);
        ctx.restore();
      });
      ctx.restore();
    }
  };
}
const framePlugin = {
  id: 'frame',
  afterDraw(chart) {
    const { ctx, chartArea: a } = chart;
    ctx.save();
    ctx.strokeStyle = '#000';
    ctx.lineWidth = 1;
    ctx.strokeRect(a.left + 0.5, a.top + 0.5, a.right - a.left - 1, a.bottom - a.top - 1);
    ctx.restore();
  }
};

Chart.defaults.font.family = '"DejaVu Sans", sans-serif';
Chart.defaults.color = '#000';
const fig = document.getElementById('fig');

function addCanvas(left, top, w, h) {
  const cv = document.createElement('canvas');
  cv.width = w; cv.height = h;
  cv.style.left = left + 'px'; cv.style.top = top + 'px';
  cv.style.width = w + 'px'; cv.style.height = h + 'px';
  fig.appendChild(cv);
  return cv;
}

function makePanel(r, c, grid, kindName) {
  const kind = KINDS[kindName];
  const colors = bandColors(kind.stops, kind.levels.length - 1);
  const F = sampleField(grid);
  const paths = [];
  kind.lines.forEach(L => contourPaths(F, L).forEach(pts => paths.push({ level: L, pts })));
  const spec = { grid, levels: kind.levels, colors, clampLow: kind.clampLow, fmt: kind.fmt, paths };

  const last = r === ROW_Y.length - 1;
  const lm = c === 0 ? 83 : 20, rm = 12, top = 12;
  const xh = last ? 50 : 6, bot = last ? 0 : 6;
  const cv = addCanvas(COL_X[c] - lm, ROW_Y[r] - top, lm + PANEL_W + rm, top + ROW_H[r] + xh + bot);

  new Chart(cv, {
    type: 'line',
    data: {
      datasets: paths.map(p => ({
        data: p.pts,
        borderColor: '#000',
        borderWidth: 1.4,
        borderDash: p.level < 0 ? [4, 2.5] : [],
        pointRadius: 0,
        fill: false,
        tension: 0
      }))
    },
    options: {
      responsive: false,
      animation: false,
      events: [],
      layout: { padding: { left: 0, right: rm, top: top, bottom: bot } },
      plugins: { legend: { display: false }, tooltip: { enabled: false } },
      scales: {
        x: {
          type: 'linear', min: -90, max: 90,
          afterBuildTicks: s => { s.ticks = LAT_TICKS.map(v => ({ value: v })); },
          afterFit: s => { s.height = xh; },
          grid: { drawOnChartArea: false, drawTicks: true, tickLength: 4, color: '#000' },
          border: { display: false },
          ticks: { display: last, font: { size: 14 }, padding: 4, maxRotation: 0, autoSkip: false, callback: v => String(v) },
          title: { display: last, text: 'Latitude (deg)', font: { size: 13.5 }, padding: { top: 0, bottom: 4 } }
        },
        y: {
          type: 'logarithmic', min: 50, max: 1000, reverse: true,
          afterBuildTicks: s => { s.ticks = P_TICKS.map(v => ({ value: v })); },
          afterFit: s => { s.width = lm; },
          grid: { drawOnChartArea: false, drawTicks: true, tickLength: 3, color: '#000' },
          border: { display: false },
          ticks: { display: c === 0, font: { size: 15 }, padding: 8, autoSkip: false, callback: v => (v === 100 ? '10²' : v === 1000 ? '10³' : '') },
          title: { display: c === 0, text: 'Pressure (hPa)', font: { size: 13.5 }, padding: { top: 22, bottom: 0 } }
        }
      }
    },
    plugins: [fieldPlugin(spec), labelPlugin(spec), framePlugin]
  });
}

function makeColorbar(c, barTop, kindName, ticks, fmt) {
  const kind = KINDS[kindName];
  const colors = bandColors(kind.stops, kind.levels.length - 1);
  const pad = 14, th = 20, bh = 9;
  const cv = addCanvas(COL_X[c] - pad, barTop - th, PANEL_W + 2 * pad, th + bh + 2);
  new Chart(cv, {
    type: 'bar',
    data: {
      labels: ['cb'],
      datasets: colors.map((col, b) => ({
        data: [[kind.levels[b], kind.levels[b + 1]]],
        backgroundColor: rgb(col),
        borderWidth: 0,
        grouped: false,
        barPercentage: 1,
        categoryPercentage: 1
      }))
    },
    options: {
      indexAxis: 'y',
      responsive: false,
      animation: false,
      events: [],
      layout: { padding: { left: pad, right: pad, top: 0, bottom: 2 } },
      plugins: { legend: { display: false }, tooltip: { enabled: false } },
      scales: {
        x: {
          type: 'linear', position: 'top',
          min: kind.levels[0], max: kind.levels[kind.levels.length - 1],
          afterBuildTicks: s => { s.ticks = ticks.map(v => ({ value: v })); },
          afterFit: s => { s.height = th; },
          grid: { drawOnChartArea: false, drawTicks: true, tickLength: 3, color: '#000' },
          border: { display: false },
          ticks: { font: { size: 7.5 }, padding: 7, maxRotation: 0, autoSkip: false, callback: v => fmt(v) }
        },
        y: { display: false }
      }
    },
    plugins: [framePlugin]
  });
}

const intFmt = v => (v < 0 ? MINUS : '') + Math.abs(v);
makeColorbar(0, 70, 'sf0', SF_PAL_TICKS, intFmt);
makeColorbar(1, 70, 'cf0', CF_PAL_TICKS, v => v.toFixed(1));
makeColorbar(2, 70, 'dens', DENS_TICKS, intFmt);
makeColorbar(3, 70, 'dens', DENS_TICKS, intFmt);
makeColorbar(0, 250, 'sf', SF_DIFF_TICKS, intFmt);
makeColorbar(1, 250, 'cf', CF_DIFF_TICKS, v => (v < 0 ? MINUS : '') + Math.abs(v).toFixed(2));

ROWS.forEach((row, r) => {
  makePanel(r, 0, row.sf, r === 0 ? 'sf0' : 'sf');
  makePanel(r, 1, row.cf, r === 0 ? 'cf0' : 'cf');
  makePanel(r, 2, row.ice, 'dens');
  makePanel(r, 3, row.liq, 'dens');
});

// column titles and row labels
const TITLES = [
  ['Mass stream function', '(10<sup>10</sup> kg s<sup>−1</sup>)'],
  ['', 'Cloud fraction'],
  ['log(Ice cloud density', '[kg m<sup>−3</sup>])'],
  ['log(Liquid cloud density', '[kg m<sup>−3</sup>])']
];
TITLES.forEach((t, c) => {
  const d = document.createElement('div');
  d.className = 'title';
  d.style.left = (COL_X[c] + PANEL_W / 2 - 110) + 'px';
  d.style.top = '16px';
  d.innerHTML = t[0] + '<br>' + t[1];
  fig.appendChild(d);
});
ROW_LABELS.forEach((lab, r) => {
  const d = document.createElement('div');
  d.className = 'rowlab';
  d.style.left = '803px';
  d.style.top = (ROW_Y[r] + ROW_H[r] / 2) + 'px';
  d.innerHTML = 'Nominal O<sub>2</sub> = ' + lab;
  fig.appendChild(d);
});
</script>
</body>
</html>
